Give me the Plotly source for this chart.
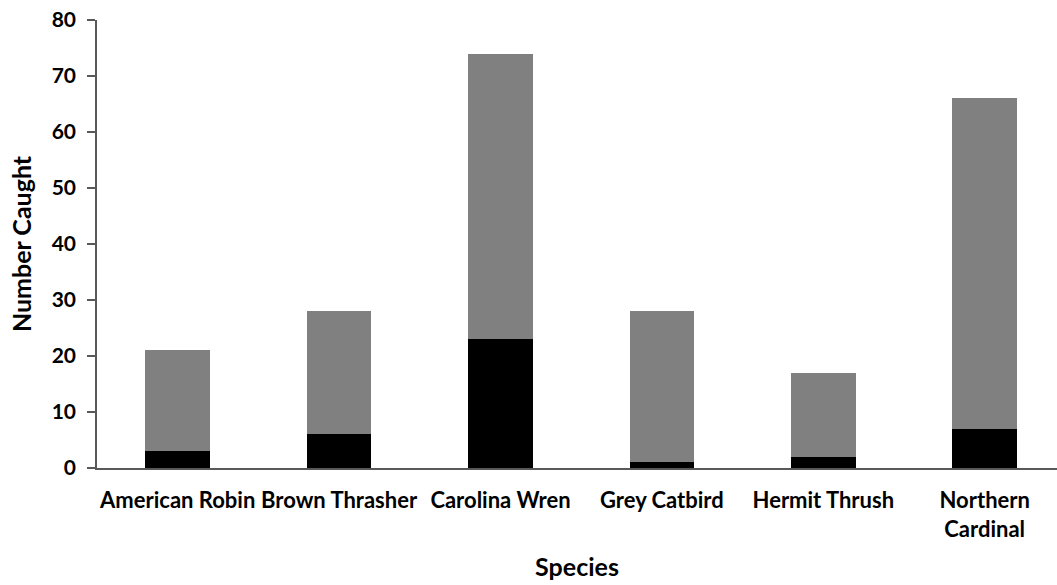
import plotly.graph_objects as go

species = ["American Robin", "Brown Thrasher", "Carolina Wren", "Grey Catbird",
           "Hermit Thrush", "Northern<br>Cardinal"]
bottom_vals = [3, 6, 23, 1, 2, 7]
top_vals = [18, 22, 51, 27, 15, 59]

font_family = "Lato"

fig = go.Figure()
fig.add_trace(go.Bar(x=species, y=bottom_vals, marker=dict(color="#000000", line=dict(width=0)),
                     width=0.4, showlegend=False))
fig.add_trace(go.Bar(x=species, y=top_vals, marker=dict(color="#808080", line=dict(width=0)),
                     width=0.4, showlegend=False))

fig.update_layout(
    barmode="stack",
    width=1057, height=585,
    margin=dict(l=97, r=0, t=20, b=117, autoexpand=False),
    plot_bgcolor="white", paper_bgcolor="white",
    font=dict(family=font_family, color="#000000", size=20, weight="bold"),
)
fig.update_xaxes(
    range=[-0.5, 5.448],
    showline=True, linecolor="#595959", linewidth=1.5,
    ticks="", showgrid=False, tickangle=0, automargin=False,
    tickfont=dict(family=font_family, size=22, weight="bold"),
    ticklabelstandoff=12,
    title=dict(text="Species", font=dict(family=font_family, size=25, weight="bold"), standoff=18),
)
fig.update_yaxes(
    range=[0, 80], dtick=10,
    showline=True, linecolor="#595959", linewidth=1.5,
    ticks="outside", ticklen=8, tickcolor="#595959", tickwidth=1.5,
    showgrid=False, zeroline=False, automargin=False,
    tickfont=dict(family=font_family, size=21, weight="bold"),
    ticklabelstandoff=7,
    title=dict(text="Number Caught", font=dict(family=font_family, size=25, weight="bold"), standoff=13),
)

fig.write_html("out.html", post_script="document.body.style.margin='0px';",
               config={"displayModeBar": False})
